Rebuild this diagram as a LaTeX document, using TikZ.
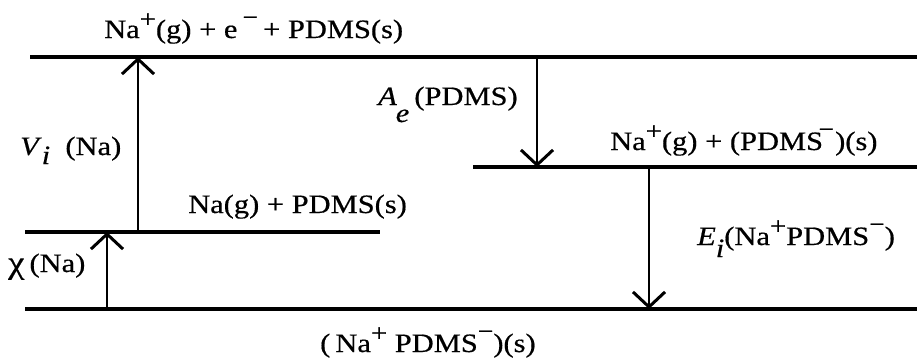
\documentclass[tikz,border=0pt]{standalone}
\usepackage{fontspec}
\setmainfont[FakeBold=0.5,AutoFakeBold=0.5]{Liberation Serif}
\usetikzlibrary{arrows.meta}
\newcommand{\hs}[1]{\scalebox{1.15}[1]{#1}}
\newcommand{\splus}{\raisebox{0.4em}{\fontsize{25}{25}\selectfont +}}
\newcommand{\sminus}{\raisebox{0.48em}{\fontsize{24}{24}\selectfont −}}
\begin{document}
\begin{tikzpicture}[x=1pt,y=-1pt,
  level/.style={line width=3.4pt},
  trans/.style={line width=2.8pt,-{Straight Barb[length=15pt,width=32pt,line width=3pt]}},
  lbl/.style={font=\fontsize{26.5}{30}\selectfont, inner sep=0pt, anchor=base west}]
\useasboundingbox (0,0) rectangle (917,362);
% levels
\coordinate (topL) at (30,57);  \coordinate (topR) at (917,57);
\coordinate (midL) at (473,167); \coordinate (midR) at (917,167);
\coordinate (naL) at (25,232);  \coordinate (naR) at (380,232);
\coordinate (botL) at (25,309); \coordinate (botR) at (917,309);
\draw[level] (topL) -- (topR);
\draw[level] (midL) -- (midR);
\draw[level] (naL) -- (naR);
\draw[level] (botL) -- (botR);
% arrow ends
\coordinate (viS) at (138,232); \coordinate (viE) at (138,57);
\coordinate (chS) at (107,309); \coordinate (chE) at (107,232);
\coordinate (aeS) at (537,57);  \coordinate (aeE) at (537,167);
\coordinate (eiS) at (649,167); \coordinate (eiE) at (649,309);
\draw[trans] (viS) -- (viE);
\draw[trans] (chS) -- (chE);
\draw[trans] (aeS) -- (aeE);
\draw[trans] (eiS) -- (eiE);
% labels
\node[lbl] (ltop) at (104,38) {\hs{Na\splus(g) + e\,\sminus\,+ PDMS(s)}};
\node[lbl] (lvi) at (20,155) {\hs{\textit{V}\raisebox{-9pt}{\textit{i}}\ \ (Na)}};
\node[lbl] (lae) at (378,105) {\hs{\textit{A}\kern-1pt\raisebox{-17pt}{\textit{e}}\,(PDMS)}};
\node[lbl] (lmid) at (610,150) {\hs{Na\splus(g) + (PDMS\kern-4pt\sminus\kern1pt)(s)}};
\node[lbl] (lna) at (188,213) {\hs{Na(g) + PDMS(s)}};
\node[lbl] (lchi) at (8,272) {\hs{\raisebox{-1pt}{\scalebox{1.2}{χ}}\,(Na)}};
\node[lbl] (lei) at (697,245) {\hs{\textit{E}\raisebox{-12pt}{\textit{i}}(Na\splus PDMS\sminus)}};
\node[lbl] (lbot) at (320,352) {\hs{(\,Na\splus\ PDMS\sminus)(s)}};
\end{tikzpicture}
\end{document}
